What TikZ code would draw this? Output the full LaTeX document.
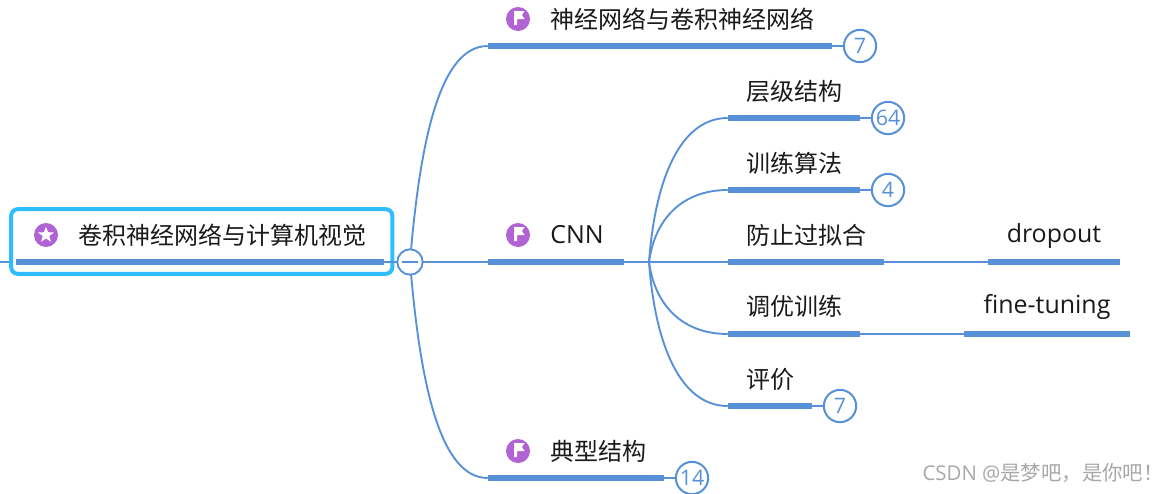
\documentclass[tikz,border=0pt]{standalone}
\usepackage{fontspec}
\setmainfont{Open Sans}
\newfontfamily\cjk{Noto Sans CJK SC}
\usetikzlibrary{shapes.geometric}
\definecolor{linkblue}{HTML}{5690D6}
\definecolor{rootblue}{HTML}{2FBDFD}
\definecolor{iconpurple}{HTML}{B163D6}
\definecolor{inkblack}{HTML}{1A1A1A}
\definecolor{markgrey}{HTML}{A8A8A8}
\tikzset{
  x=0.75pt,y=-0.75pt,
  bar/.style={fill=linkblue,draw=none,inner sep=0pt,minimum height=4.5pt,rectangle},
  link/.style={draw=linkblue,line width=1.4pt},
  label/.style={anchor=west,inner sep=0pt,text=inkblack,font=\fontsize{18}{20}\selectfont\cjk},
  latin/.style={anchor=center,inner sep=0pt,text=inkblack,font=\fontsize{18.7}{20}\selectfont},
  badge/.style={circle,draw=linkblue,fill=white,line width=1.5pt,minimum size=24.2pt,inner sep=0pt,text=linkblue,font=\fontsize{16}{18}\selectfont},
  icon/.style={circle,fill=iconpurple,minimum size=18pt,inner sep=0pt}
}
\begin{document}
\begin{tikzpicture}
\useasboundingbox (0,0) rectangle (1162,493);
\fill[white] (0,0) rectangle (1162,493);

% bars
\node[bar,minimum width=276pt] (rootbar) at (200,262) {};
\node[bar,minimum width=258pt] (b1) at (660,46) {};
\node[bar,minimum width=102pt] (b2) at (556,262) {};
\node[bar,minimum width=132pt] (b3) at (576,478) {};
\node[bar,minimum width=99pt] (c1) at (794,118) {};
\node[bar,minimum width=99pt] (c2) at (794,190) {};
\node[bar,minimum width=117pt] (c3) at (806,262) {};
\node[bar,minimum width=99pt] (c4) at (794,334) {};
\node[bar,minimum width=63pt] (c5) at (770,406) {};
\node[bar,minimum width=99pt] (d1) at (1054,262) {};
\node[bar,minimum width=124.5pt] (d2) at (1047,334) {};

% root frame
\coordinate (leftend) at (0,262);
\node[draw=rootblue,line width=3pt,rounded corners=5pt,minimum width=285.9pt,minimum height=48.5pt,inner sep=0pt] (rootbox) at (201.75,241.5) {};

% forks
\coordinate (hub) at (410,262);
\coordinate (fork) at (649,262);

\draw[link] (leftend) -- (rootbox.west |- leftend);
\draw[link] (rootbar.east) -- (hub);
\draw[link] (hub) .. controls (420,140) and (440,46) .. (b1.west);
\draw[link] (hub) -- (b2.west);
\draw[link] (hub) .. controls (420,384) and (440,478) .. (b3.west);
\draw[link] (b2.east) -- (fork);
\draw[link] (fork) .. controls (655,180) and (680,118) .. (c1.west);
\draw[link] (fork) .. controls (655,218) and (683,190) .. (c2.west);
\draw[link] (fork) -- (c3.west);
\draw[link] (fork) .. controls (655,306) and (683,334) .. (c4.west);
\draw[link] (fork) .. controls (655,344) and (680,406) .. (c5.west);
\draw[link] (c3.east) -- (d1.west);
\draw[link] (c4.east) -- (d2.west);

% collapse button
\node[circle,draw=linkblue,fill=white,line width=1.4pt,minimum size=19pt,inner sep=0pt] (collapse) at (410,262) {};
\draw[link] ([xshift=-6pt]collapse.center) -- ([xshift=6pt]collapse.center);

% badges
\node[badge] (n1) at (860,46) {7};
\node[badge] (n2) at (888,118) {64};
\node[badge] (n3) at (888,190) {4};
\node[badge] (n4) at (840,406) {7};
\node[badge] (n5) at (692,478) {14};
\draw[link] (b1.east) -- (n1);
\draw[link] (c1.east) -- (n2);
\draw[link] (c2.east) -- (n3);
\draw[link] (c5.east) -- (n4);
\draw[link] (b3.east) -- (n5);

% icons
\node[icon] (i0) at (46,235) {};
\node[star,star points=5,star point ratio=2.4,fill=white,inner sep=0pt,minimum size=12.5pt] (s0) at (46,235) {};
\foreach \nm/\yy in {i1/19,i2/235,i3/451}{
  \node[icon] (\nm) at (518,\yy) {};
  \fill[white] ([shift={(-4,-8)}]\nm.center) -- ([shift={(6.5,-8)}]\nm.center) -- ([shift={(4,-4)}]\nm.center) -- ([shift={(6.5,0)}]\nm.center) -- ([shift={(-1,0)}]\nm.center) -- ([shift={(-1,6)}]\nm.center) -- ([shift={(-4,6)}]\nm.center) -- cycle;
}

% labels
\node[label] (t0) at (78,235) {卷积神经网络与计算机视觉};
\node[label] (t1) at (550,19) {神经网络与卷积神经网络};
\node[latin,anchor=west] (t2) at (550,235) {CNN};
\node[label] (t3) at (550,451) {典型结构};
\node[label] (u1) at (746,91) {层级结构};
\node[label] (u2) at (746,163) {训练算法};
\node[label] (u3) at (746,235) {防止过拟合};
\node[label] (u4) at (746,306) {调优训练};
\node[label] (u5) at (746,379) {评价};
\node[latin] (v1) at (1054,236) {dropout};
\node[latin] (v2) at (1047,307) {fine-tuning};

% watermark
\node[anchor=east,inner sep=0pt,text=markgrey,font=\fontsize{15.3}{17}\selectfont] (wm) at (1164,473) {CSDN @{\cjk 是梦吧，是你吧！}};
\end{tikzpicture}
\end{document}
